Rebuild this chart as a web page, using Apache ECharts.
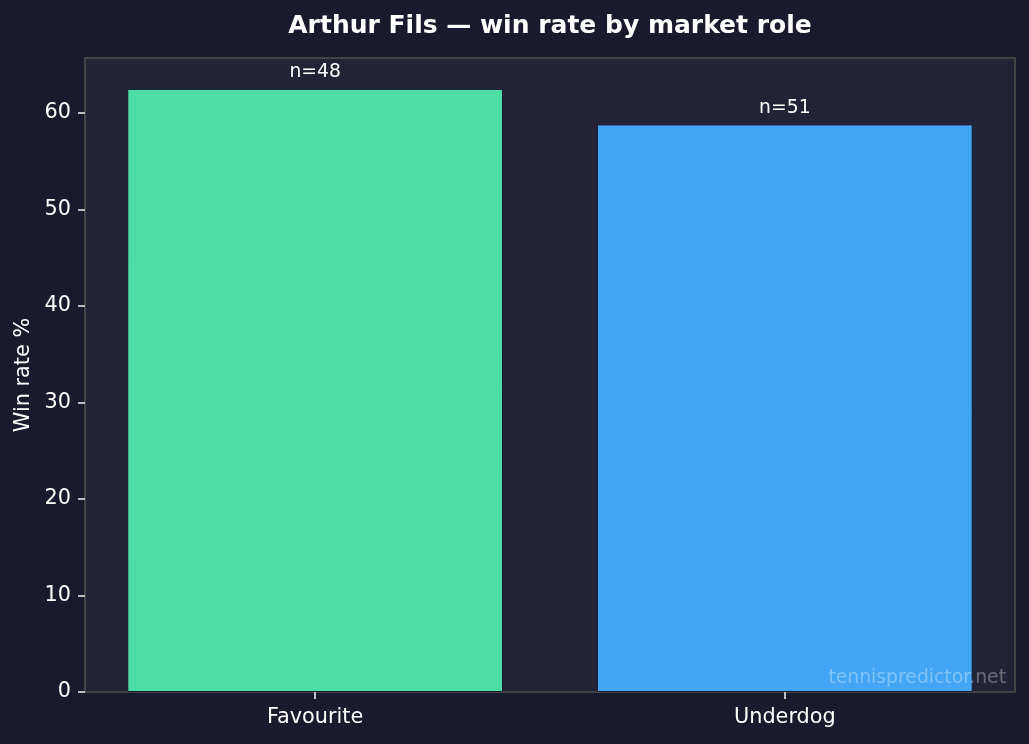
<!DOCTYPE html>
<html><head><meta charset="utf-8">
<script src="https://cdn.jsdelivr.net/npm/echarts@6/dist/echarts.min.js"></script>
<style>html,body{margin:0;padding:0;background:#1a1a2e;}#c{width:1029px;height:744px;}</style>
</head><body><div id="c"></div>
<script>
const categories = ['Favourite', 'Underdog'];
const winRates = [62.5, 58.82];
const sampleSizes = [48, 51];
const barColors = ['#4ddda6', '#42a5f5'];
const yTicks = [0, 10, 20, 30, 40, 50, 60];

const gridLeft = 85, gridRight = 14;
const xMin = -0.49, xMax = 1.49;
const gridW = 1029 - gridLeft - gridRight;
const barW = 0.8 * gridW / (xMax - xMin);

const chart = echarts.init(document.getElementById('c'));
const font = 'DejaVu Sans';
chart.setOption({
  backgroundColor: '#1a1a2e',
  animation: false,
  title: {
    text: 'Arthur Fils — win rate by market role',
    left: gridLeft + gridW / 2 - 5, textAlign: 'center', top: 9,
    textStyle: {color: '#ffffff', fontSize: 25, fontWeight: 'bold', fontFamily: font}
  },
  graphic: [{
    type: 'text', right: 23, top: 669, z: 100,
    style: {text: 'tennispredictor.net', fill: 'rgba(255,255,255,0.33)', fontSize: 18.8, fontFamily: font}
  }],
  grid: {
    left: gridLeft, right: gridRight, top: 58, bottom: 52,
    show: true, backgroundColor: '#232337', borderColor: '#444446', borderWidth: 2
  },
  xAxis: {
    type: 'value', min: xMin, max: xMax,
    axisLine: {show: true, onZero: false, lineStyle: {color: '#444446', width: 2}},
    axisTick: {show: true, customValues: [0, 1], length: 7, lineStyle: {color: '#dddddd', width: 1.7}},
    axisLabel: {color: '#ffffff', fontSize: 20.8, fontFamily: font, margin: 15,
      customValues: [0, 1], formatter: v => categories[Math.round(v)] || ''},
    splitLine: {show: false}
  },
  yAxis: {
    type: 'value', min: 0, max: 65.7,
    name: 'Win rate %', nameLocation: 'middle', nameGap: 47,
    nameTextStyle: {color: '#ffffff', fontSize: 20.8, fontFamily: font},
    axisLine: {show: true, onZero: false, lineStyle: {color: '#444446', width: 2}},
    axisTick: {show: true, customValues: yTicks, length: 7, lineStyle: {color: '#dddddd', width: 1.7}},
    axisLabel: {color: '#ffffff', fontSize: 20.8, fontFamily: font, margin: 14, customValues: yTicks,
      padding: [4, 0, 0, 0]},
    splitLine: {show: false}
  },
  series: [{
    type: 'bar',
    barWidth: barW,
    data: winRates.map((v, i) => ({
      value: [i, v],
      itemStyle: {color: barColors[i], borderColor: '#1a1a2e', borderWidth: 1},
      label: {show: true, position: 'top', distance: 7, formatter: 'n=' + sampleSizes[i],
        color: '#ffffff', fontSize: 18.75, fontFamily: font}
    }))
  }]
});
</script></body></html>
